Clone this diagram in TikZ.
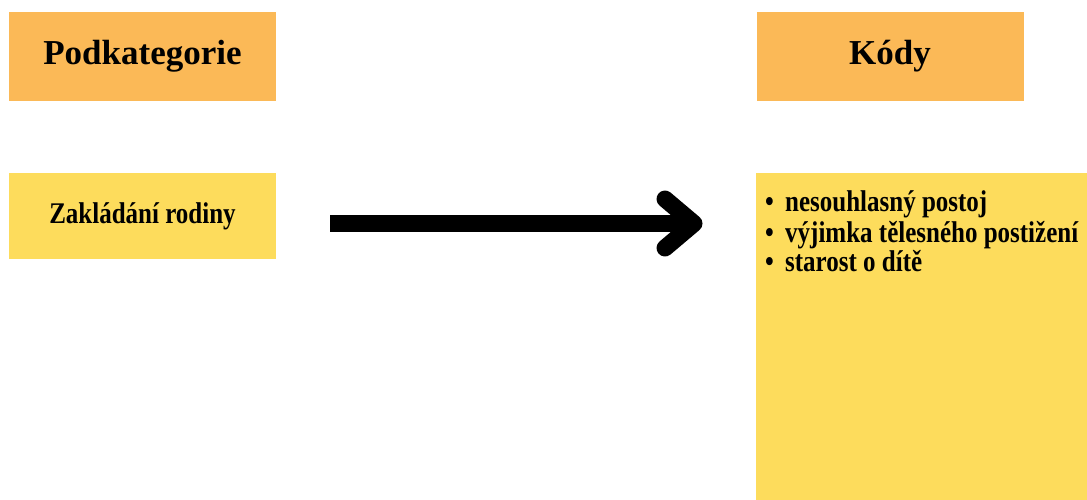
\documentclass[tikz,border=0pt]{standalone}
\usepackage{fontspec}
\setmainfont{Liberation Serif}
\definecolor{headorange}{HTML}{FBB957}
\definecolor{boxyellow}{HTML}{FDDC5C}
\tikzset{
  head/.style={fill=headorange, minimum width=267pt, minimum height=89pt, inner sep=0pt, font=\bfseries\fontsize{35}{40}\selectfont},
  catbox/.style={fill=boxyellow, minimum width=267pt, minimum height=86pt, inner sep=0pt, font=\bfseries\fontsize{25}{30}\selectfont},
  codebox/.style={fill=boxyellow, minimum width=340pt, minimum height=330pt, inner sep=0pt, anchor=north west},
  codeitem/.style={anchor=base west, inner sep=0pt, font=\bfseries\fontsize{25}{30}\selectfont},
  bigarrow/.style={line width=17pt},
  arrowhead/.style={line width=17pt, line cap=round, line join=round}
}
\newcommand{\tall}[1]{\scalebox{1}[1.2]{#1}}
\newcommand{\bul}{\makebox[20pt][l]{•}}
\begin{document}
\begin{tikzpicture}[x=1pt,y=-1pt]
\useasboundingbox (0,0) rectangle (1087,499);
\clip (0,0) rectangle (1087,499);
\node[head] (pk) at (142.5,56.5) {Podkategorie};
\node[head] (kd) at (890,56.5) {Kódy};
\node[catbox] (zr) at (142.5,216) {\tall{Zakládání rodiny}};
\node[codebox] (cb) at (756,173) {};
\node[codeitem] (c1) at (765,211) {\tall{\bul nesouhlasný postoj}};
\node[codeitem] (c2) at (765,242) {\tall{\bul výjimka tělesného postižení}};
\node[codeitem] (c3) at (765,271) {\tall{\bul starost o dítě}};
\coordinate (as) at ([xshift=54pt,yshift=-7.5pt]zr.east);
\coordinate (ae) at ([xshift=-62pt]cb.west |- as);
\draw[bigarrow] (as) -- (ae);
\draw[arrowhead] ([shift={(-29pt,-24.5pt)}]ae) -- (ae) -- ([shift={(-29pt,24.5pt)}]ae);
\end{tikzpicture}
\end{document}
